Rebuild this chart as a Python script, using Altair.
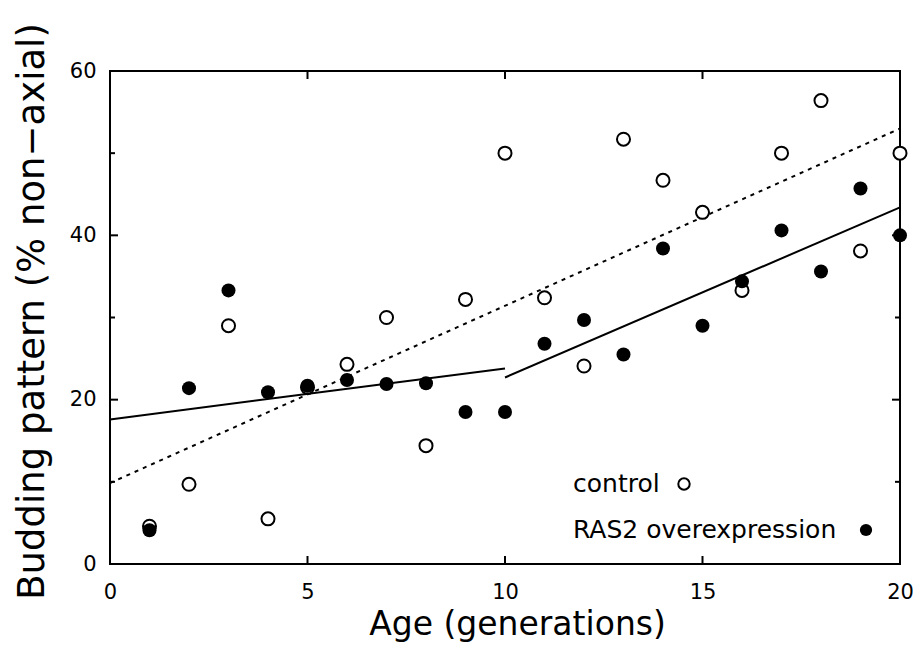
import altair as alt
import pandas as pd

# ---- data ----
age = list(range(1, 21))
control = [4.6, 9.7, 29.0, 5.5, 21.5, 24.3, 30.0, 14.4, 32.2, 50.0,
           32.4, 24.1, 51.7, 46.7, 42.8, 33.3, 50.0, 56.4, 38.1, 50.0]
ras2 = [4.1, 21.4, 33.3, 20.9, 21.7, 22.4, 21.9, 22.0, 18.5, 18.5,
        26.8, 29.7, 25.5, 38.4, 29.0, 34.4, 40.6, 35.6, 45.7, 40.0]

control_fit_x = [0, 20]
control_fit_y = [9.85, 53.0]
ras2_fit_x = [0, 10, 10, 20]
ras2_fit_y = [17.6, 23.8, 22.7, 43.4]
ras2_fit_seg = [1, 1, 2, 2]

y_major = [0, 20, 40, 60]
y_minor = [10, 30, 50]
x_major = [0, 5, 10, 15, 20]

FONT = "DejaVu Sans"
W, H = 790, 493
MAJ, MIN = 8, 5

df_c = pd.DataFrame({"age": age, "pct": control})
df_r = pd.DataFrame({"age": age, "pct": ras2})
df_cf = pd.DataFrame({"age": control_fit_x, "pct": control_fit_y})
df_rf = pd.DataFrame({"age": ras2_fit_x, "pct": ras2_fit_y, "seg": ras2_fit_seg})
df_ymaj = pd.DataFrame({"v": y_major})
df_ymin = pd.DataFrame({"v": y_minor})
df_xmaj = pd.DataFrame({"v": x_major})

xs = alt.Scale(domain=[0, 20], nice=False, zero=False)
ys = alt.Scale(domain=[0, 60], nice=False, zero=False)

X_AX = alt.Axis(
    orient="bottom", values=x_major, ticks=False, tickSize=0, domain=False, grid=False,
    labelPadding=17, labelFlush=False, labelFontSize=21, labelFont=FONT,
    labelColor="black",
    title="Age (generations)", titleFontSize=33, titleFont=FONT,
    titleFontWeight="normal", titleColor="black", titlePadding=6, titleX=407)
Y_AX = alt.Axis(
    orient="left", values=y_major, ticks=False, tickSize=0, domain=False, grid=False,
    labelPadding=14, labelFlush=False, labelFontSize=21, labelFont=FONT,
    labelColor="black",
    title="Budding pattern (% non−axial)", titleFontSize=37, titleFont=FONT,
    titleFontWeight="normal", titleColor="black", titlePadding=18, titleY=240)


def X(field):
    return alt.X(field, scale=xs, axis=X_AX)


def Y(field):
    return alt.Y(field, scale=ys, axis=Y_AX)


c_pts = alt.Chart(df_c).mark_point(
    shape="circle", fill="white", stroke="black", strokeWidth=2, size=170, opacity=1
).encode(x=X("age:Q"), y=Y("pct:Q"))

r_pts = alt.Chart(df_r).mark_point(
    shape="circle", filled=True, color="black", size=196, opacity=1
).encode(x=X("age:Q"), y=Y("pct:Q"))

c_fit = alt.Chart(df_cf).mark_line(
    color="black", strokeWidth=2, strokeDash=[4, 5]
).encode(x=X("age:Q"), y=Y("pct:Q"))

r_fit = alt.Chart(df_rf).mark_line(
    color="black", strokeWidth=2
).encode(x=X("age:Q"), y=Y("pct:Q"), detail="seg:N")


# inward ticks on all four sides, placed through the scales
def yticks(df, length):
    left = alt.Chart(df).mark_rule(color="black", strokeWidth=2).encode(
        y=Y("v:Q"), x=alt.value(0), x2=alt.value(length))
    right = alt.Chart(df).mark_rule(color="black", strokeWidth=2).encode(
        y=Y("v:Q"), x=alt.value(W - length), x2=alt.value(W))
    return [left, right]


def xticks(df, length):
    bottom = alt.Chart(df).mark_rule(color="black", strokeWidth=2).encode(
        x=X("v:Q"), y=alt.value(H - length), y2=alt.value(H))
    top = alt.Chart(df).mark_rule(color="black", strokeWidth=2).encode(
        x=X("v:Q"), y=alt.value(0), y2=alt.value(length))
    return [bottom, top]


tick_layers = yticks(df_ymaj, MAJ) + yticks(df_ymin, MIN) + xticks(df_xmaj, MAJ)

# in-plot key
t1 = alt.Chart().mark_text(
    text="control", align="left", baseline="middle", fontSize=25, font=FONT, color="black"
).encode(x=alt.value(463), y=alt.value(413))
t2 = alt.Chart().mark_text(
    text="RAS2 overexpression", align="left", baseline="middle", fontSize=25, font=FONT,
    color="black"
).encode(x=alt.value(463), y=alt.value(459))
s1 = alt.Chart().mark_point(
    shape="circle", fill="white", stroke="black", strokeWidth=2, size=130, opacity=1
).encode(x=alt.value(574), y=alt.value(413))
s2 = alt.Chart().mark_point(
    shape="circle", filled=True, color="black", size=150, opacity=1
).encode(x=alt.value(756), y=alt.value(459))

chart = alt.layer(
    *tick_layers, c_fit, r_fit, c_pts, r_pts, t1, t2, s1, s2
).properties(
    width=W, height=H,
    background="white",
    autosize=alt.AutoSizeParams(type="none"),
    padding={"left": 102, "top": 63, "right": 13, "bottom": 80},
).configure_view(
    stroke="black", strokeWidth=2
)

chart.save("out.html", embed_options={"renderer": "svg", "actions": False})
